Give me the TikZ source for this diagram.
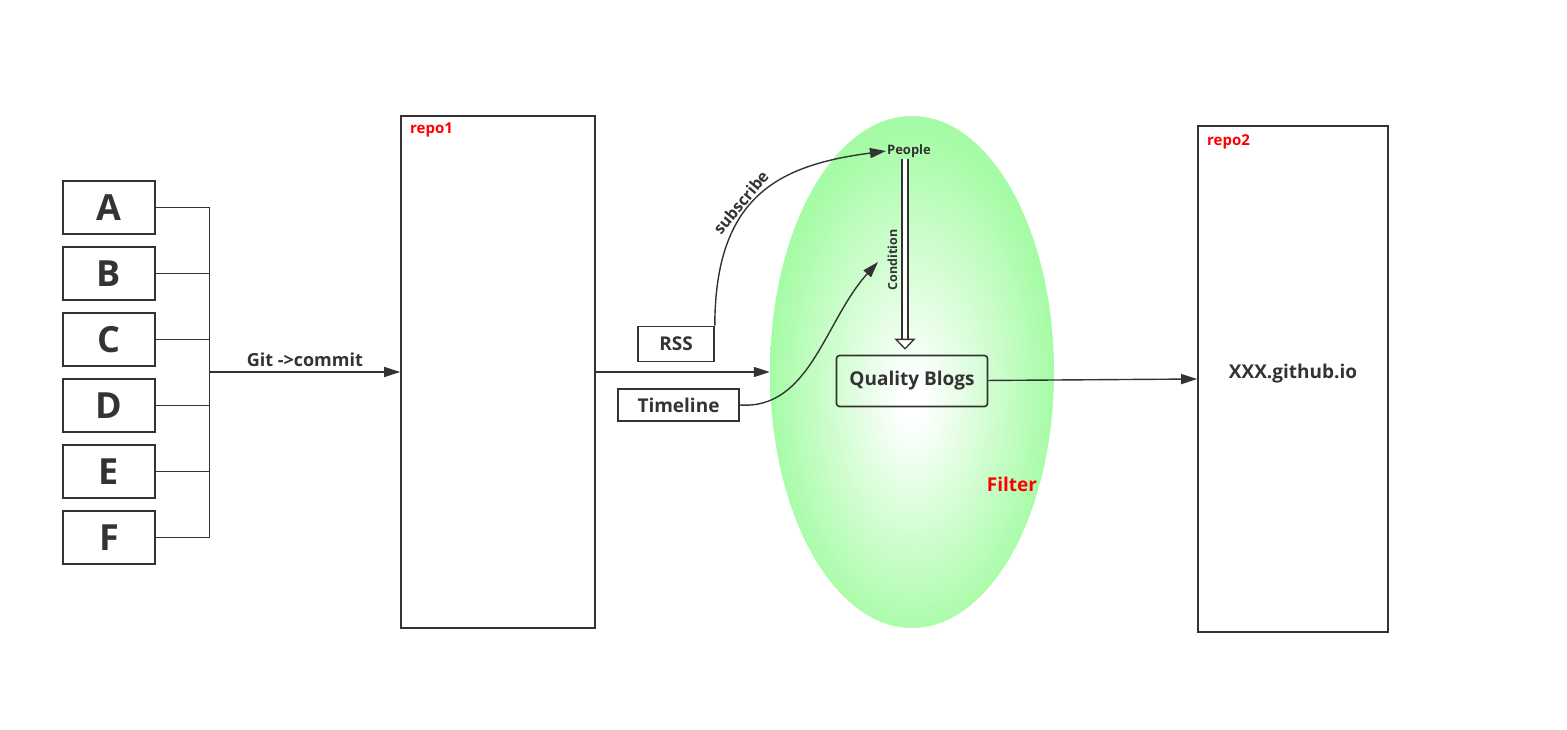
\documentclass[tikz,border=0pt]{standalone}
\usepackage{fontspec}
\setmainfont{Open Sans}
\usetikzlibrary{shapes.geometric,arrows.meta,positioning}
\usepackage{xcolor}
\definecolor{ink}{HTML}{333333}
\definecolor{leaf}{HTML}{A6FCA6}
\pgfdeclareradialshading{glow}{\pgfpoint{0bp}{-3bp}}{color(0bp)=(white); color(2bp)=(white); color(25bp)=(leaf); color(50bp)=(leaf)}

\begin{document}
\begin{tikzpicture}[
  x=1pt, y=-1pt,
  node distance=11.4pt,
  letter/.style={draw=ink, line width=1.6pt, minimum width=92pt, minimum height=53pt, inner sep=0pt, text=ink, font=\fontsize{36}{36}\selectfont\bfseries},
  repo/.style={draw=ink, line width=1.6pt, inner sep=0pt},
  tag/.style={text=red, anchor=base west, inner sep=0pt, font=\fontsize{15}{15}\selectfont\bfseries},
  box/.style={draw=ink, line width=1.6pt, inner sep=0pt, text=ink, font=\fontsize{19}{19}\selectfont\bfseries},
  plain/.style={text=ink, inner sep=1pt, font=\fontsize{19}{19}\selectfont\bfseries},
  link/.style={draw=ink, line width=1.4pt},
  arrow/.style={draw=ink, line width=1.4pt, -{Triangle[length=16pt,width=10pt]}},
  hollow/.style={draw=ink, line width=1.3pt, double=white, double distance=4.5pt, -{Triangle[open,fill=white,length=11pt,width=21pt]}}
]
\useasboundingbox (0,0) rectangle (1567,730);

% filter area
\node[ellipse, shade, shading=glow, minimum width=284pt, minimum height=512pt] (filter) at (912,372) {};
\node[text=red, inner sep=0pt, font=\fontsize{19}{19}\selectfont\bfseries] (filtertag) at (1012,484) {Filter};

% sources
\node[letter] (A) at (109,207.5) {A};
\node[letter, below=of A] (B) {B};
\node[letter, below=of B] (C) {C};
\node[letter, below=of C] (D) {D};
\node[letter, below=of D] (E) {E};
\node[letter, below=of E] (F) {F};
\coordinate (bus) at (209.5,372);

% repositories
\node[repo, minimum width=194pt, minimum height=512pt] (repo1) at (498,372) {};
\node[tag] (tag1) at (410,134) {repo1};
\node[repo, minimum width=190pt, minimum height=506pt] (repo2) at (1293,379) {};
\node[tag] (tag2) at (1207,146) {repo2};
\node[plain] (site) at (1293,374) {XXX.github.io};

% feeds
\node[box, minimum width=76pt, minimum height=35pt] (rss) at (676,344) {RSS};
\node[box, minimum width=121pt, minimum height=32pt] (timeline) at (678.5,405) {Timeline};
\node[box, rounded corners=3pt, minimum width=151pt, minimum height=51pt] (blogs) at (912,381) {Quality Blogs};
\node[text=ink, inner sep=1pt, font=\fontsize{13}{13}\selectfont\bfseries] (people) at (909,151) {People};
\coordinate (cond) at (878,262);

\foreach \n in {A,B,C,D,E,F}
  \draw[link] (\n.east) -- (\n.east -| bus);
\draw[link] (A.east -| bus) -- (F.east -| bus);
\draw[arrow] (bus) -- node[above, text=ink, inner sep=5pt, font=\fontsize{18}{18}\selectfont\bfseries]{Git ->commit} (repo1.west);
\draw[arrow] (repo1.east) -- (filter.west);
\draw[arrow] (rss.north east) .. controls (715,195) and (780,165) .. node[pos=0.42, sloped, above, text=ink, inner sep=2pt, font=\fontsize{16}{16}\selectfont\bfseries]{subscribe} (people.west);
\draw[arrow] (timeline.east) .. controls (810,410) and (825,320) .. (cond);
\draw[hollow] ([xshift=-4pt]people.south) -- node[pos=0.53, rotate=90, anchor=south, text=ink, inner sep=7pt, font=\fontsize{12.5}{12.5}\selectfont\bfseries]{Condition} ([xshift=-4pt,yshift=5pt]people.south |- blogs.north);
\draw[arrow] (blogs) -- (repo2.west);
\end{tikzpicture}
\end{document}
